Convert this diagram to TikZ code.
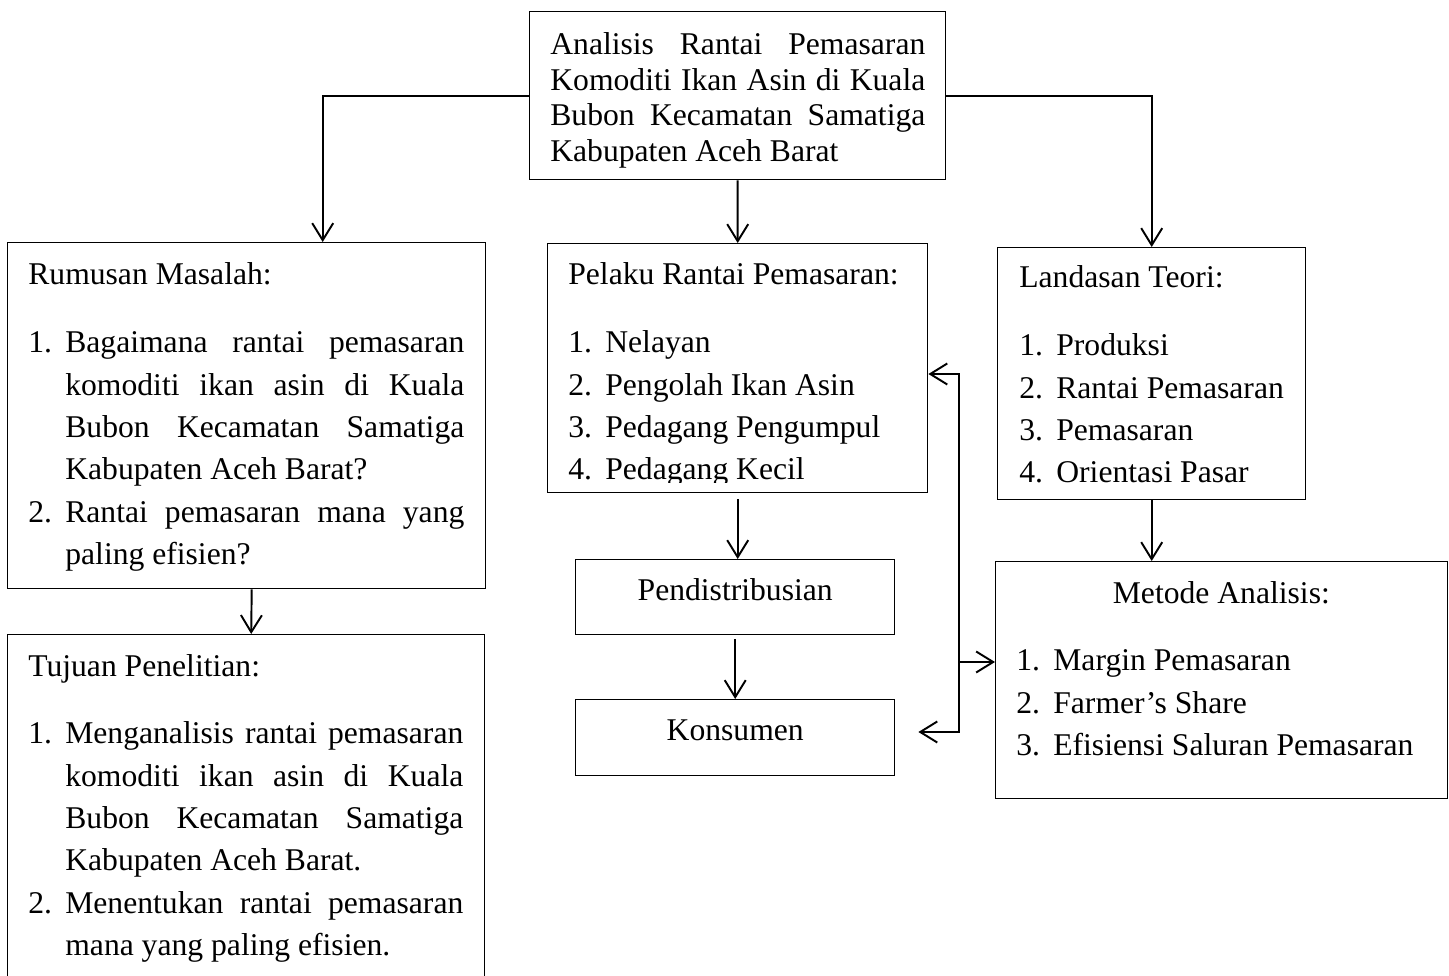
\documentclass[tikz,border=0pt]{standalone}
\usepackage{fontspec}
\setmainfont{Liberation Serif}
\usetikzlibrary{arrows.meta, positioning, calc}
\setlength{\parindent}{0pt}

\newcommand{\butir}[2]{\par\hangindent=0.74cm\hangafter=1\noindent\makebox[0.74cm][l]{#1}#2}

\begin{document}
\begin{tikzpicture}[
  >={Straight Barb[length=3.4mm, width=4.2mm]},
  every node/.style={font=\fontsize{18}{24.1}\selectfont, inner sep=0pt},
  box/.style={draw, line width=0.8pt, anchor=north west},
  isi/.style={anchor=base west, align=justify},
  arr/.style={line width=1.1pt, ->},
]

% Page
\path[use as bounding box] (0,0) rectangle (28.98,-19.52);
\clip (0,0) rectangle (28.98,-19.52);

% Judul
\node[box, minimum width=8.32cm, minimum height=3.36cm] (judul) at (10.58,-0.22) {};
\node[isi, text width=7.5cm, font=\fontsize{18}{20.2}\selectfont] (judultxt) at (11.0,-1.1) {Analisis Rantai Pemasaran\linebreak Komoditi Ikan Asin di Kuala\linebreak Bubon Kecamatan Samatiga\linebreak Kabupaten Aceh Barat\par};

% Rumusan Masalah
\node[box, minimum width=9.56cm, minimum height=6.92cm] (rumusan) at (0.14,-4.84) {};
\node[isi, text width=8.72cm] (rumusantxt) at (0.56,-5.7) {Rumusan Masalah:\par\vspace{0.51cm}
  \butir{1.}{Bagaimana rantai pemasaran\linebreak komoditi ikan asin di Kuala\linebreak Bubon Kecamatan Samatiga\linebreak Kabupaten Aceh Barat?}
  \butir{2.}{Rantai pemasaran mana yang\linebreak paling efisien?}\par};

% Tujuan Penelitian
\node[box, minimum width=9.54cm, minimum height=7.4cm] (tujuan) at (0.14,-12.68) {};
\node[isi, text width=8.7cm] (tujuantxt) at (0.56,-13.52) {Tujuan Penelitian:\par\vspace{0.51cm}
  \butir{1.}{Menganalisis rantai pemasaran\linebreak komoditi ikan asin di Kuala\linebreak Bubon Kecamatan Samatiga\linebreak Kabupaten Aceh Barat.}
  \butir{2.}{Menentukan rantai pemasaran\linebreak mana yang paling efisien.}\par};

% Pelaku Rantai Pemasaran
\node[box, minimum width=7.6cm, minimum height=4.98cm] (pelaku) at (10.94,-4.86) {};
\begin{scope}
  \clip (pelaku.north west) rectangle ([yshift=0.22cm]pelaku.south east);
  \node[isi, text width=7cm] (pelakutxt) at (11.36,-5.7) {Pelaku Rantai Pemasaran:\par\vspace{0.51cm}
    \butir{1.}{Nelayan}\butir{2.}{Pengolah Ikan Asin}\butir{3.}{Pedagang Pengumpul}\butir{4.}{Pedagang Kecil}\par};
\end{scope}

% Pendistribusian dan Konsumen
\node[box, minimum width=6.38cm, text height=0.82cm, text depth=0.68cm] (distrib) at (11.5,-11.18) {Pendistribusian};
\node[box, minimum width=6.38cm, text height=0.82cm, text depth=0.70cm] (konsumen) at (11.5,-13.98) {Konsumen};

% Landasan Teori
\node[box, minimum width=6.16cm, minimum height=5.04cm] (landasan) at (19.94,-4.94) {};
\node[isi, text width=5.6cm] (landasantxt) at (20.38,-5.76) {Landasan Teori:\par\vspace{0.51cm}
  \butir{1.}{Produksi}\butir{2.}{Rantai Pemasaran}\butir{3.}{Pemasaran}\butir{4.}{Orientasi Pasar}\par};

% Metode Analisis
\node[box, minimum width=9.04cm, minimum height=4.74cm] (metode) at (19.9,-11.22) {};
\node[isi, text width=8.2cm] (metodetxt) at (20.32,-12.06) {{\centering Metode Analisis:\par}\vspace{0.51cm}
  \butir{1.}{Margin Pemasaran}\butir{2.}{Farmer’s Share}\butir{3.}{Efisiensi Saluran Pemasaran}\par};

% Arrows from judul
\draw[arr] (judul.west) -| ([xshift=1.52cm]rumusan.north);
\draw[arr] (judul.south) -- (pelaku.north);
\draw[arr] (judul.east) -| (landasan.north);

% Arrows down
\draw[arr] ([xshift=0.1cm]rumusan.south) -- ([xshift=0.1cm]tujuan.north);
\draw[arr, shorten <=0.12cm] (pelaku.south) -- (pelaku.south |- distrib.north);
\draw[arr, shorten <=0.08cm] (distrib.south) -- (konsumen.north);
\draw[arr] (landasan.south) -- (landasan.south |- metode.north);

% Feedback line
\coordinate (busatas) at (19.18,-7.48);
\coordinate (bustengah) at (19.18,-13.24);
\coordinate (busbawah) at (19.18,-14.64);
\draw[arr, <->] (busatas -| pelaku.east) -- (busatas) -- (busbawah) -- ($(busbawah -| konsumen.east)+(0.46,0)$);
\draw[arr] (bustengah) -- (bustengah -| metode.west);

\end{tikzpicture}
\end{document}
